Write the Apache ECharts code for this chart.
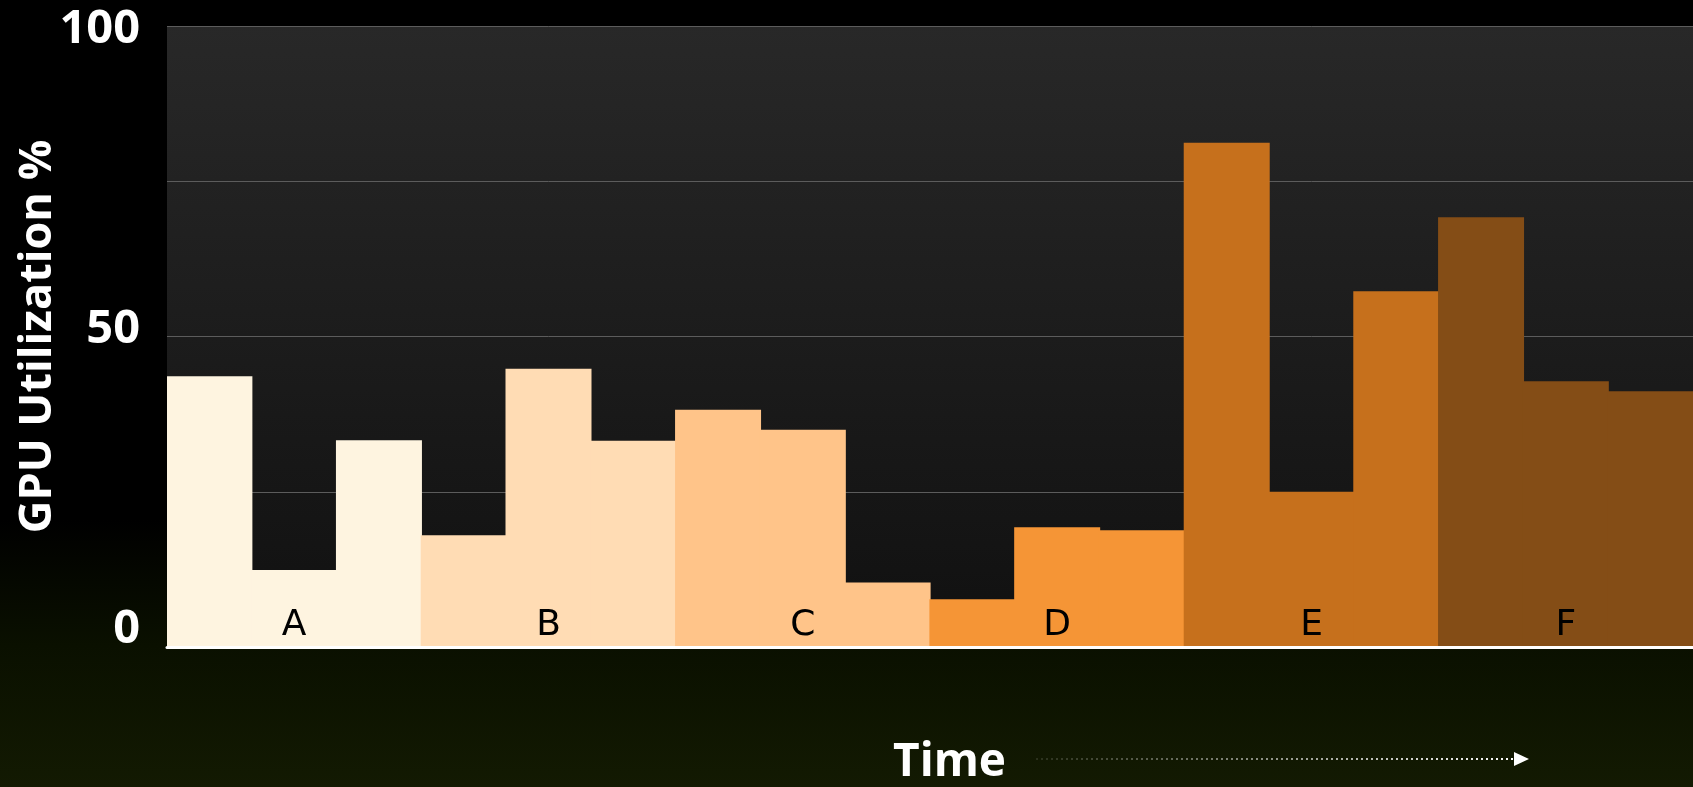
<!DOCTYPE html>
<html>
<head>
<meta charset="utf-8">
<script src="https://cdn.jsdelivr.net/npm/echarts@6/dist/echarts.min.js"></script>
<style>
  html, body { margin: 0; padding: 0; }
  body {
    width: 1693px; height: 787px; overflow: hidden;
    background: linear-gradient(to bottom, #000 0%, #000 66%, #0a1000 82%, #131a02 100%);
  }
  #chart { width: 1693px; height: 787px; }
</style>
</head>
<body>
<div id="chart"></div>
<script>
// groups along the time axis, three runs each
var groups = ['A', 'B', 'C', 'D', 'E', 'F'];
var groupColors = ['#fef4e0', '#ffdcb4', '#ffc489', '#f59536', '#c6701c', '#844d16'];

// GPU utilization % for each run
var valuesA = [43.6, 12.4, 33.3];
var valuesB = [18.0, 44.8, 33.2];
var valuesC = [38.2, 35.0, 10.4];
var valuesD = [7.7, 19.3, 18.8];
var valuesE = [81.2, 25.0, 57.3];
var valuesF = [69.2, 42.8, 41.2];

var yTicks = [0, 50, 100];

var allValues = [valuesA, valuesB, valuesC, valuesD, valuesE, valuesF];
var categories = [];
var barData = [];
allValues.forEach(function (vals, g) {
  vals.forEach(function (v, i) {
    // only the middle run carries the group letter
    categories.push(i === 1 ? groups[g] : ' ' + g + '_' + i);
    barData.push({ value: v, itemStyle: { color: groupColors[g] } });
  });
});

var myChart = echarts.init(document.getElementById('chart'));
myChart.setOption({
  backgroundColor: 'transparent',
  animation: false,
  grid: {
    left: 167, right: 0, top: 26, bottom: 140,
    outerBoundsMode: 'none',
    show: true,
    borderWidth: 0,
    backgroundColor: new echarts.graphic.LinearGradient(0, 0, 0, 1, [
      { offset: 0, color: '#282828' },
      { offset: 1, color: '#101010' }
    ])
  },
  xAxis: {
    type: 'category',
    data: categories,
    z: 10,
    axisLine: { show: true, lineStyle: { color: '#ffffff', width: 3 } },
    axisTick: { show: false },
    splitLine: { show: false },
    axisLabel: {
      inside: true,
      interval: 0,
      margin: 3,
      color: '#000',
      fontFamily: 'DejaVu Sans',
      fontSize: 36,
      formatter: function (v) { return groups.indexOf(v) >= 0 ? v : ''; }
    }
  },
  yAxis: {
    type: 'value',
    min: 0, max: 100, interval: 25,
    name: 'GPU Utilization %',
    nameLocation: 'middle',
    nameGap: 106,
    nameMoveOverlap: false,
    nameTextStyle: { color: '#fff', fontFamily: 'Open Sans', fontWeight: 'bold', fontSize: 45 },
    axisLine: { show: false },
    axisTick: { show: false },
    splitLine: { show: true, lineStyle: { color: '#5c5c5c', width: 1 } },
    axisLabel: {
      margin: 27,
      color: '#fff',
      formatter: function (v) {
        if (yTicks.indexOf(v) < 0) return '';
        var k = v === 100 ? 't' : (v === 50 ? 'm' : 'z');
        return '{' + k + '|' + v + '}';
      },
      rich: {
        t: { color: '#fff', fontFamily: 'Open Sans', fontWeight: 'bold', fontSize: 47, padding: [8, 0, 0, 0] },
        m: { color: '#fff', fontFamily: 'Open Sans', fontWeight: 'bold', fontSize: 47, padding: [0, 0, 14, 0] },
        z: { color: '#fff', fontFamily: 'Open Sans', fontWeight: 'bold', fontSize: 47, padding: [0, 0, 34, 0] }
      }
    }
  },
  series: [{
    type: 'bar',
    data: barData,
    barCategoryGap: '0%',
    barWidth: 86,
    z: 3
  }],
  graphic: [
    {
      type: 'text',
      left: 893, top: 740,
      style: { text: 'Time', fill: '#fff', font: 'bold 46px "Open Sans"' }
    },
    {
      type: 'line',
      shape: { x1: 1036, y1: 759, x2: 1516, y2: 759 },
      style: {
        lineWidth: 2,
        lineDash: [2, 3],
        stroke: new echarts.graphic.LinearGradient(0, 0, 1, 0, [
          { offset: 0, color: 'rgba(255,255,255,0.1)' },
          { offset: 1, color: 'rgba(255,255,255,1)' }
        ])
      }
    },
    {
      type: 'polygon',
      shape: { points: [[1514, 752], [1529, 759], [1514, 766]] },
      style: { fill: '#fff' }
    }
  ]
});
</script>
</body>
</html>
